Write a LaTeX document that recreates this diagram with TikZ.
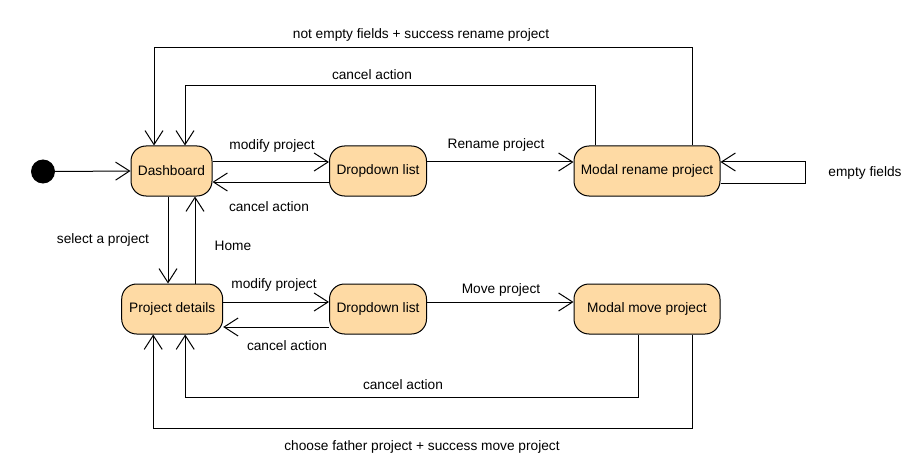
\documentclass[tikz,border=0pt]{standalone}
\usepackage{fontspec}
\setmainfont{Liberation Sans}
\usetikzlibrary{arrows.meta}
\definecolor{statefill}{RGB}{254,218,164}
\tikzset{
  state/.style={draw=black, fill=statefill, rounded corners=15pt, minimum height=50pt, inner sep=0pt, line width=1pt, font=\fontsize{13.7}{16}\selectfont},
  arr/.style={draw=black, line width=1pt, -{Straight Barb[length=14pt,width=18pt,line width=1pt]}},
  lbl/.style={font=\fontsize{13.7}{16}\selectfont, inner sep=0pt}
}
\begin{document}
\begin{tikzpicture}[x=1pt,y=-1pt]
\useasboundingbox (0,0) rectangle (917,465);
\node[circle, fill=black, minimum size=24pt, inner sep=0pt] (init) at (43,171.5) {};
\node[state, minimum width=81pt] (dash) at (171.5,171) {Dashboard};
\node[state, minimum width=97pt] (drop1) at (378,171) {Dropdown list};
\node[state, minimum width=146pt] (mren) at (647,171) {Modal rename project};
\node[state, minimum width=101pt] (pdet) at (172.2,309) {Project details};
\node[state, minimum width=97pt] (drop2) at (378,309) {Dropdown list};
\node[state, minimum width=146pt] (mmove) at (647,309) {Modal move project};

\draw[arr] (init.east) -- (dash.west);
\draw[arr] ([yshift=9pt]dash.east) -- ([yshift=9pt]drop1.west);
\draw[arr] ([yshift=-11pt]drop1.west) -- ([yshift=-11pt]dash.east);
\draw[arr] ([yshift=9pt]drop1.east) -- ([yshift=9pt]mren.west);
\draw[arr] ([xshift=-52pt]mren.north) -- ++(0,-60) -| ([xshift=13.5pt]dash.north);
\draw[arr] ([xshift=45pt]mren.north) -- ++(0,-98) -| ([xshift=-17.5pt]dash.north);
\draw[arr] ([yshift=-12pt]mren.east) -- ++(85,0) |- ([yshift=9pt]mren.east);
\draw[arr] ([xshift=-3.5pt]dash.south) -- ([xshift=-3.5pt]dash.south |- pdet.north);
\draw[arr] ([xshift=23.5pt]dash.south |- pdet.north) -- ([xshift=23.5pt]dash.south);
\draw[arr] ([yshift=7pt]pdet.east) -- ([yshift=7pt]drop2.west);
\draw[arr] ([yshift=-18pt]drop2.west) -- ([yshift=-18pt]drop2.west -| pdet.east);
\draw[arr] ([yshift=7pt]drop2.east) -- ([yshift=7pt]mmove.west);
\draw[arr] ([xshift=-9pt]mmove.south) -- ++(0,63) -| ([xshift=13pt]pdet.south);
\draw[arr] ([xshift=45pt]mmove.south) -- ++(0,94) -| ([xshift=-19pt]pdet.south);

\node[lbl] (l1) at (421,35) {not empty fields + success rename project};
\node[lbl] (l2) at (372,75) {cancel action};
\node[lbl] (l3) at (272,146) {modify project};
\node[lbl] (l4) at (269,207) {cancel action};
\node[lbl] (l5) at (496,145) {Rename project};
\node[lbl] (l6) at (865,173) {empty fields};
\node[lbl] (l7) at (103,240) {select a project};
\node[lbl] (l8) at (233,246) {Home};
\node[lbl] (l9) at (274,285) {modify project};
\node[lbl] (l10) at (287,346) {cancel action};
\node[lbl] (l11) at (501,290) {Move project};
\node[lbl] (l12) at (403,385) {cancel action};
\node[lbl] (l13) at (422,447) {choose father project + success move project};
\end{tikzpicture}
\end{document}
